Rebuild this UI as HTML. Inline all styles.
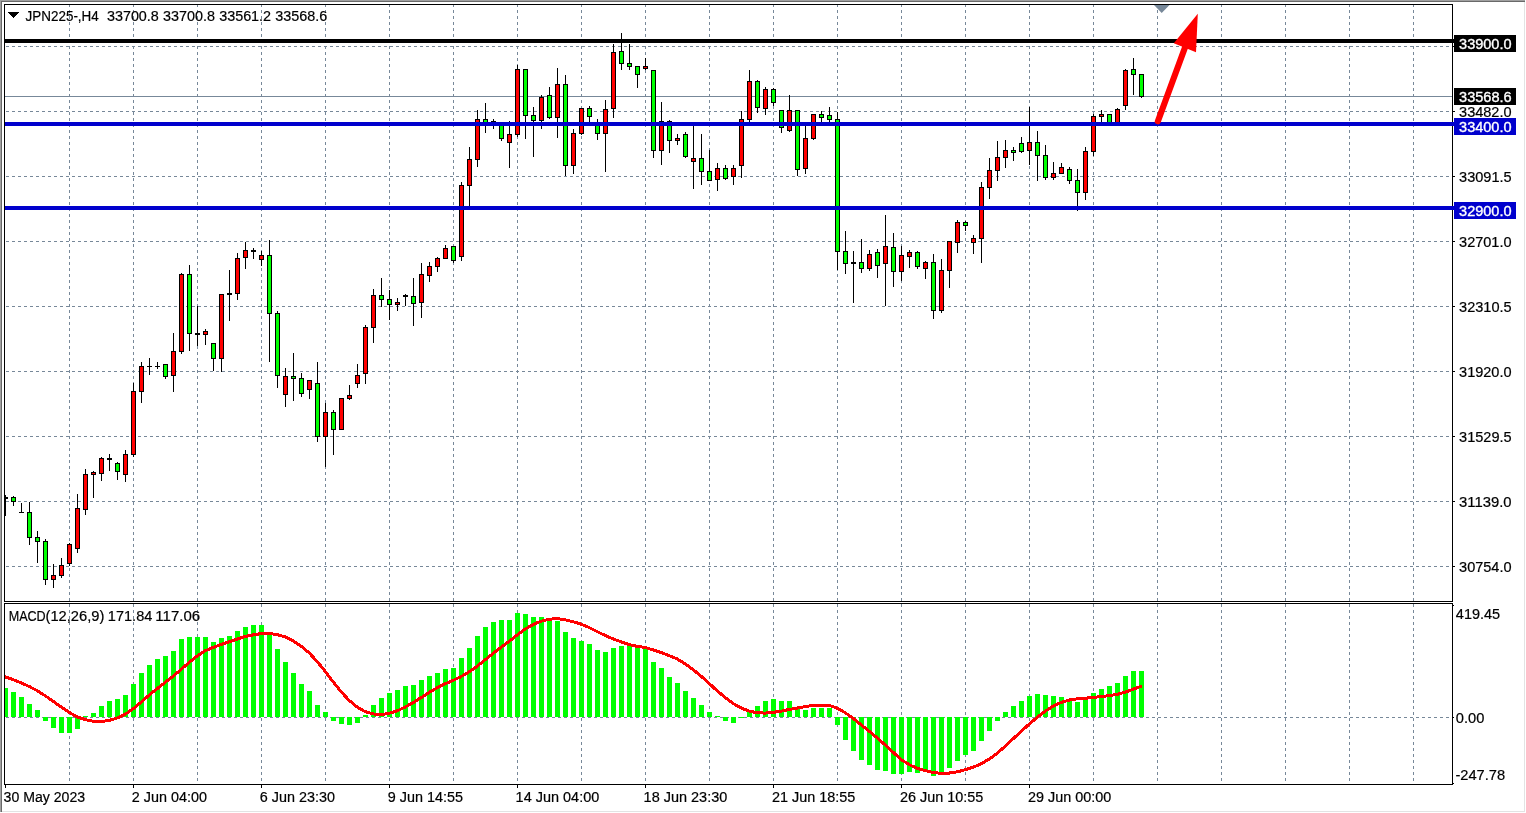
<!DOCTYPE html>
<html lang="en"><head><meta charset="utf-8"><title>JPN225-,H4</title>
<style>html,body{margin:0;padding:0;background:#fff;overflow:hidden}svg{display:block}text{font-family:"Liberation Sans",Arial,sans-serif;font-size:14px;fill:#000;stroke:#000;stroke-width:.2px}.w{fill:#fff;stroke:#fff;stroke-width:.35px}</style></head><body>
<svg width="1526" height="813" viewBox="0 0 1526 813">
<rect width="1526" height="813" fill="#fff"/>
<g shape-rendering="crispEdges">
<rect x="0" y="0" width="1526" height="1" fill="#a0a0a0"/><rect x="0" y="0" width="1" height="813" fill="#a0a0a0"/>
<rect x="1" y="1" width="1524" height="1" fill="#696969"/><rect x="1" y="1" width="1" height="811" fill="#696969"/>
<rect x="1524" y="2" width="1" height="810" fill="#e3e3e3"/><rect x="2" y="811" width="1523" height="1" fill="#e3e3e3"/>
<rect x="1525" y="0" width="1" height="813" fill="#fff"/><rect x="0" y="812" width="1526" height="1" fill="#fff"/>
<g stroke="#778899" stroke-width="1" stroke-dasharray="3 3" fill="none">
<path d="M69.5 4V601"/>
<path d="M69.5 604V784"/>
<path d="M133.5 4V601"/>
<path d="M133.5 604V784"/>
<path d="M197.5 4V601"/>
<path d="M197.5 604V784"/>
<path d="M261.5 4V601"/>
<path d="M261.5 604V784"/>
<path d="M325.5 4V601"/>
<path d="M325.5 604V784"/>
<path d="M389.5 4V601"/>
<path d="M389.5 604V784"/>
<path d="M453.5 4V601"/>
<path d="M453.5 604V784"/>
<path d="M517.5 4V601"/>
<path d="M517.5 604V784"/>
<path d="M581.5 4V601"/>
<path d="M581.5 604V784"/>
<path d="M645.5 4V601"/>
<path d="M645.5 604V784"/>
<path d="M709.5 4V601"/>
<path d="M709.5 604V784"/>
<path d="M773.5 4V601"/>
<path d="M773.5 604V784"/>
<path d="M837.5 4V601"/>
<path d="M837.5 604V784"/>
<path d="M901.5 4V601"/>
<path d="M901.5 604V784"/>
<path d="M965.5 4V601"/>
<path d="M965.5 604V784"/>
<path d="M1029.5 4V601"/>
<path d="M1029.5 604V784"/>
<path d="M1093.5 4V601"/>
<path d="M1093.5 604V784"/>
<path d="M1157.5 4V601"/>
<path d="M1157.5 604V784"/>
<path d="M1221.5 4V601"/>
<path d="M1221.5 604V784"/>
<path d="M1285.5 4V601"/>
<path d="M1285.5 604V784"/>
<path d="M1349.5 4V601"/>
<path d="M1349.5 604V784"/>
<path d="M1413.5 4V601"/>
<path d="M1413.5 604V784"/>
<path d="M6 46.5H1452"/>
<path d="M6 111.5H1452"/>
<path d="M6 176.5H1452"/>
<path d="M6 241.5H1452"/>
<path d="M6 306.5H1452"/>
<path d="M6 371.5H1452"/>
<path d="M6 436.5H1452"/>
<path d="M6 501.5H1452"/>
<path d="M6 566.5H1452"/>
<path d="M6 717.5H1452"/>
</g>
<rect x="5" y="96" width="1447" height="1" fill="#778899"/>
<clipPath id="cm"><rect x="5" y="5" width="1447" height="596"/></clipPath><clipPath id="cs"><rect x="5" y="604" width="1447" height="180"/></clipPath>
<g clip-path="url(#cm)">
<rect x="5" y="495" width="1" height="21" fill="#000"/>
<rect x="3" y="497" width="5" height="2" fill="#000"/>
<rect x="13" y="496" width="1" height="10" fill="#000"/>
<rect x="11" y="497" width="5" height="5" fill="#000"/>
<rect x="12" y="498" width="3" height="3" fill="#00ff00"/>
<rect x="21" y="503" width="1" height="10" fill="#000"/>
<rect x="19" y="512" width="5" height="1" fill="#000"/>
<rect x="29" y="502" width="1" height="43" fill="#000"/>
<rect x="27" y="512" width="5" height="26" fill="#000"/>
<rect x="28" y="513" width="3" height="24" fill="#00ff00"/>
<rect x="37" y="531" width="1" height="32" fill="#000"/>
<rect x="35" y="537" width="5" height="5" fill="#000"/>
<rect x="36" y="538" width="3" height="3" fill="#00ff00"/>
<rect x="45" y="539" width="1" height="46" fill="#000"/>
<rect x="43" y="541" width="5" height="39" fill="#000"/>
<rect x="44" y="542" width="3" height="37" fill="#00ff00"/>
<rect x="53" y="564" width="1" height="24" fill="#000"/>
<rect x="51" y="575" width="5" height="5" fill="#000"/>
<rect x="52" y="576" width="3" height="3" fill="#ff0000"/>
<rect x="61" y="558" width="1" height="20" fill="#000"/>
<rect x="59" y="565" width="5" height="11" fill="#000"/>
<rect x="60" y="566" width="3" height="9" fill="#ff0000"/>
<rect x="69" y="543" width="1" height="23" fill="#000"/>
<rect x="67" y="544" width="5" height="20" fill="#000"/>
<rect x="68" y="545" width="3" height="18" fill="#ff0000"/>
<rect x="77" y="494" width="1" height="59" fill="#000"/>
<rect x="75" y="508" width="5" height="41" fill="#000"/>
<rect x="76" y="509" width="3" height="39" fill="#ff0000"/>
<rect x="85" y="469" width="1" height="46" fill="#000"/>
<rect x="83" y="474" width="5" height="36" fill="#000"/>
<rect x="84" y="475" width="3" height="34" fill="#ff0000"/>
<rect x="93" y="471" width="1" height="27" fill="#000"/>
<rect x="91" y="472" width="5" height="3" fill="#000"/>
<rect x="92" y="473" width="3" height="1" fill="#ff0000"/>
<rect x="101" y="457" width="1" height="24" fill="#000"/>
<rect x="99" y="458" width="5" height="16" fill="#000"/>
<rect x="100" y="459" width="3" height="14" fill="#ff0000"/>
<rect x="109" y="454" width="1" height="17" fill="#000"/>
<rect x="107" y="458" width="5" height="2" fill="#000"/>
<rect x="117" y="462" width="1" height="18" fill="#000"/>
<rect x="115" y="463" width="5" height="9" fill="#000"/>
<rect x="116" y="464" width="3" height="7" fill="#00ff00"/>
<rect x="125" y="450" width="1" height="32" fill="#000"/>
<rect x="123" y="454" width="5" height="21" fill="#000"/>
<rect x="124" y="455" width="3" height="19" fill="#ff0000"/>
<rect x="133" y="383" width="1" height="74" fill="#000"/>
<rect x="131" y="391" width="5" height="64" fill="#000"/>
<rect x="132" y="392" width="3" height="62" fill="#ff0000"/>
<rect x="141" y="362" width="1" height="41" fill="#000"/>
<rect x="139" y="366" width="5" height="26" fill="#000"/>
<rect x="140" y="367" width="3" height="24" fill="#ff0000"/>
<rect x="149" y="358" width="1" height="17" fill="#000"/>
<rect x="147" y="366" width="5" height="1" fill="#000"/>
<rect x="157" y="362" width="1" height="7" fill="#000"/>
<rect x="155" y="366" width="5" height="1" fill="#000"/>
<rect x="165" y="364" width="1" height="15" fill="#000"/>
<rect x="163" y="364" width="5" height="13" fill="#000"/>
<rect x="164" y="365" width="3" height="11" fill="#00ff00"/>
<rect x="173" y="333" width="1" height="59" fill="#000"/>
<rect x="171" y="351" width="5" height="25" fill="#000"/>
<rect x="172" y="352" width="3" height="23" fill="#ff0000"/>
<rect x="181" y="273" width="1" height="81" fill="#000"/>
<rect x="179" y="274" width="5" height="78" fill="#000"/>
<rect x="180" y="275" width="3" height="76" fill="#ff0000"/>
<rect x="189" y="265" width="1" height="86" fill="#000"/>
<rect x="187" y="274" width="5" height="60" fill="#000"/>
<rect x="188" y="275" width="3" height="58" fill="#00ff00"/>
<rect x="197" y="306" width="1" height="40" fill="#000"/>
<rect x="195" y="333" width="5" height="2" fill="#000"/>
<rect x="205" y="329" width="1" height="16" fill="#000"/>
<rect x="203" y="331" width="5" height="4" fill="#000"/>
<rect x="204" y="332" width="3" height="2" fill="#ff0000"/>
<rect x="213" y="343" width="1" height="28" fill="#000"/>
<rect x="211" y="343" width="5" height="16" fill="#000"/>
<rect x="212" y="344" width="3" height="14" fill="#00ff00"/>
<rect x="221" y="294" width="1" height="78" fill="#000"/>
<rect x="219" y="294" width="5" height="65" fill="#000"/>
<rect x="220" y="295" width="3" height="63" fill="#ff0000"/>
<rect x="229" y="270" width="1" height="51" fill="#000"/>
<rect x="227" y="293" width="5" height="2" fill="#000"/>
<rect x="237" y="253" width="1" height="47" fill="#000"/>
<rect x="235" y="258" width="5" height="36" fill="#000"/>
<rect x="236" y="259" width="3" height="34" fill="#ff0000"/>
<rect x="245" y="242" width="1" height="27" fill="#000"/>
<rect x="243" y="250" width="5" height="8" fill="#000"/>
<rect x="244" y="251" width="3" height="6" fill="#ff0000"/>
<rect x="253" y="248" width="1" height="11" fill="#000"/>
<rect x="251" y="250" width="5" height="2" fill="#000"/>
<rect x="261" y="251" width="1" height="15" fill="#000"/>
<rect x="259" y="255" width="5" height="5" fill="#000"/>
<rect x="260" y="256" width="3" height="3" fill="#ff0000"/>
<rect x="269" y="240" width="1" height="122" fill="#000"/>
<rect x="267" y="255" width="5" height="59" fill="#000"/>
<rect x="268" y="256" width="3" height="57" fill="#00ff00"/>
<rect x="277" y="311" width="1" height="77" fill="#000"/>
<rect x="275" y="313" width="5" height="63" fill="#000"/>
<rect x="276" y="314" width="3" height="61" fill="#00ff00"/>
<rect x="285" y="368" width="1" height="39" fill="#000"/>
<rect x="283" y="376" width="5" height="19" fill="#000"/>
<rect x="284" y="377" width="3" height="17" fill="#ff0000"/>
<rect x="293" y="353" width="1" height="48" fill="#000"/>
<rect x="291" y="376" width="5" height="3" fill="#000"/>
<rect x="292" y="377" width="3" height="1" fill="#00ff00"/>
<rect x="301" y="373" width="1" height="24" fill="#000"/>
<rect x="299" y="378" width="5" height="16" fill="#000"/>
<rect x="300" y="379" width="3" height="14" fill="#00ff00"/>
<rect x="309" y="380" width="1" height="19" fill="#000"/>
<rect x="307" y="380" width="5" height="10" fill="#000"/>
<rect x="308" y="381" width="3" height="8" fill="#ff0000"/>
<rect x="317" y="362" width="1" height="80" fill="#000"/>
<rect x="315" y="383" width="5" height="54" fill="#000"/>
<rect x="316" y="384" width="3" height="52" fill="#00ff00"/>
<rect x="325" y="403" width="1" height="64" fill="#000"/>
<rect x="323" y="412" width="5" height="25" fill="#000"/>
<rect x="324" y="413" width="3" height="23" fill="#ff0000"/>
<rect x="333" y="410" width="1" height="45" fill="#000"/>
<rect x="331" y="412" width="5" height="18" fill="#000"/>
<rect x="332" y="413" width="3" height="16" fill="#00ff00"/>
<rect x="341" y="398" width="1" height="32" fill="#000"/>
<rect x="339" y="398" width="5" height="32" fill="#000"/>
<rect x="340" y="399" width="3" height="30" fill="#ff0000"/>
<rect x="349" y="385" width="1" height="15" fill="#000"/>
<rect x="347" y="395" width="5" height="4" fill="#000"/>
<rect x="348" y="396" width="3" height="2" fill="#ff0000"/>
<rect x="357" y="364" width="1" height="24" fill="#000"/>
<rect x="355" y="375" width="5" height="9" fill="#000"/>
<rect x="356" y="376" width="3" height="7" fill="#ff0000"/>
<rect x="365" y="325" width="1" height="59" fill="#000"/>
<rect x="363" y="327" width="5" height="47" fill="#000"/>
<rect x="364" y="328" width="3" height="45" fill="#ff0000"/>
<rect x="373" y="289" width="1" height="54" fill="#000"/>
<rect x="371" y="295" width="5" height="33" fill="#000"/>
<rect x="372" y="296" width="3" height="31" fill="#ff0000"/>
<rect x="381" y="278" width="1" height="29" fill="#000"/>
<rect x="379" y="295" width="5" height="5" fill="#000"/>
<rect x="380" y="296" width="3" height="3" fill="#00ff00"/>
<rect x="389" y="290" width="1" height="30" fill="#000"/>
<rect x="387" y="299" width="5" height="6" fill="#000"/>
<rect x="388" y="300" width="3" height="4" fill="#00ff00"/>
<rect x="397" y="298" width="1" height="13" fill="#000"/>
<rect x="395" y="302" width="5" height="3" fill="#000"/>
<rect x="396" y="303" width="3" height="1" fill="#ff0000"/>
<rect x="405" y="294" width="1" height="12" fill="#000"/>
<rect x="403" y="295" width="5" height="2" fill="#000"/>
<rect x="413" y="278" width="1" height="48" fill="#000"/>
<rect x="411" y="296" width="5" height="8" fill="#000"/>
<rect x="412" y="297" width="3" height="6" fill="#00ff00"/>
<rect x="421" y="263" width="1" height="55" fill="#000"/>
<rect x="419" y="274" width="5" height="29" fill="#000"/>
<rect x="420" y="275" width="3" height="27" fill="#ff0000"/>
<rect x="429" y="262" width="1" height="20" fill="#000"/>
<rect x="427" y="266" width="5" height="10" fill="#000"/>
<rect x="428" y="267" width="3" height="8" fill="#ff0000"/>
<rect x="437" y="257" width="1" height="15" fill="#000"/>
<rect x="435" y="258" width="5" height="9" fill="#000"/>
<rect x="436" y="259" width="3" height="7" fill="#ff0000"/>
<rect x="445" y="245" width="1" height="14" fill="#000"/>
<rect x="443" y="248" width="5" height="11" fill="#000"/>
<rect x="444" y="249" width="3" height="9" fill="#ff0000"/>
<rect x="453" y="246" width="1" height="17" fill="#000"/>
<rect x="451" y="246" width="5" height="15" fill="#000"/>
<rect x="452" y="247" width="3" height="13" fill="#00ff00"/>
<rect x="461" y="182" width="1" height="79" fill="#000"/>
<rect x="459" y="185" width="5" height="72" fill="#000"/>
<rect x="460" y="186" width="3" height="70" fill="#ff0000"/>
<rect x="469" y="147" width="1" height="61" fill="#000"/>
<rect x="467" y="159" width="5" height="27" fill="#000"/>
<rect x="468" y="160" width="3" height="25" fill="#ff0000"/>
<rect x="477" y="110" width="1" height="57" fill="#000"/>
<rect x="475" y="119" width="5" height="41" fill="#000"/>
<rect x="476" y="120" width="3" height="39" fill="#ff0000"/>
<rect x="485" y="103" width="1" height="30" fill="#000"/>
<rect x="483" y="119" width="5" height="6" fill="#000"/>
<rect x="484" y="120" width="3" height="4" fill="#00ff00"/>
<rect x="493" y="119" width="1" height="10" fill="#000"/>
<rect x="491" y="121" width="5" height="2" fill="#000"/>
<rect x="501" y="124" width="1" height="17" fill="#000"/>
<rect x="499" y="124" width="5" height="15" fill="#000"/>
<rect x="500" y="125" width="3" height="13" fill="#00ff00"/>
<rect x="509" y="121" width="1" height="47" fill="#000"/>
<rect x="507" y="134" width="5" height="9" fill="#000"/>
<rect x="508" y="135" width="3" height="7" fill="#ff0000"/>
<rect x="517" y="65" width="1" height="72" fill="#000"/>
<rect x="515" y="69" width="5" height="66" fill="#000"/>
<rect x="516" y="70" width="3" height="64" fill="#ff0000"/>
<rect x="525" y="69" width="1" height="70" fill="#000"/>
<rect x="523" y="69" width="5" height="47" fill="#000"/>
<rect x="524" y="70" width="3" height="45" fill="#00ff00"/>
<rect x="533" y="107" width="1" height="50" fill="#000"/>
<rect x="531" y="115" width="5" height="6" fill="#000"/>
<rect x="532" y="116" width="3" height="4" fill="#00ff00"/>
<rect x="541" y="95" width="1" height="34" fill="#000"/>
<rect x="539" y="97" width="5" height="24" fill="#000"/>
<rect x="540" y="98" width="3" height="22" fill="#ff0000"/>
<rect x="549" y="87" width="1" height="32" fill="#000"/>
<rect x="547" y="95" width="5" height="23" fill="#000"/>
<rect x="548" y="96" width="3" height="21" fill="#00ff00"/>
<rect x="557" y="68" width="1" height="70" fill="#000"/>
<rect x="555" y="84" width="5" height="34" fill="#000"/>
<rect x="556" y="85" width="3" height="32" fill="#ff0000"/>
<rect x="565" y="75" width="1" height="101" fill="#000"/>
<rect x="563" y="84" width="5" height="82" fill="#000"/>
<rect x="564" y="85" width="3" height="80" fill="#00ff00"/>
<rect x="573" y="129" width="1" height="45" fill="#000"/>
<rect x="571" y="133" width="5" height="33" fill="#000"/>
<rect x="572" y="134" width="3" height="31" fill="#ff0000"/>
<rect x="581" y="108" width="1" height="27" fill="#000"/>
<rect x="579" y="108" width="5" height="26" fill="#000"/>
<rect x="580" y="109" width="3" height="24" fill="#ff0000"/>
<rect x="589" y="106" width="1" height="17" fill="#000"/>
<rect x="587" y="108" width="5" height="9" fill="#000"/>
<rect x="588" y="109" width="3" height="7" fill="#00ff00"/>
<rect x="597" y="119" width="1" height="21" fill="#000"/>
<rect x="595" y="124" width="5" height="10" fill="#000"/>
<rect x="596" y="125" width="3" height="8" fill="#00ff00"/>
<rect x="605" y="100" width="1" height="72" fill="#000"/>
<rect x="603" y="109" width="5" height="25" fill="#000"/>
<rect x="604" y="110" width="3" height="23" fill="#ff0000"/>
<rect x="613" y="44" width="1" height="74" fill="#000"/>
<rect x="611" y="52" width="5" height="57" fill="#000"/>
<rect x="612" y="53" width="3" height="55" fill="#ff0000"/>
<rect x="621" y="33" width="1" height="37" fill="#000"/>
<rect x="619" y="51" width="5" height="13" fill="#000"/>
<rect x="620" y="52" width="3" height="11" fill="#00ff00"/>
<rect x="629" y="44" width="1" height="26" fill="#000"/>
<rect x="627" y="63" width="5" height="4" fill="#000"/>
<rect x="628" y="64" width="3" height="2" fill="#00ff00"/>
<rect x="637" y="66" width="1" height="22" fill="#000"/>
<rect x="635" y="66" width="5" height="9" fill="#000"/>
<rect x="636" y="67" width="3" height="7" fill="#00ff00"/>
<rect x="645" y="58" width="1" height="12" fill="#000"/>
<rect x="643" y="66" width="5" height="3" fill="#000"/>
<rect x="644" y="67" width="3" height="1" fill="#ff0000"/>
<rect x="653" y="70" width="1" height="88" fill="#000"/>
<rect x="651" y="70" width="5" height="81" fill="#000"/>
<rect x="652" y="71" width="3" height="79" fill="#00ff00"/>
<rect x="661" y="102" width="1" height="63" fill="#000"/>
<rect x="659" y="121" width="5" height="30" fill="#000"/>
<rect x="660" y="122" width="3" height="28" fill="#ff0000"/>
<rect x="669" y="120" width="1" height="33" fill="#000"/>
<rect x="667" y="121" width="5" height="20" fill="#000"/>
<rect x="668" y="122" width="3" height="18" fill="#00ff00"/>
<rect x="677" y="134" width="1" height="11" fill="#000"/>
<rect x="675" y="138" width="5" height="3" fill="#000"/>
<rect x="676" y="139" width="3" height="1" fill="#ff0000"/>
<rect x="685" y="132" width="1" height="26" fill="#000"/>
<rect x="683" y="134" width="5" height="23" fill="#000"/>
<rect x="684" y="135" width="3" height="21" fill="#00ff00"/>
<rect x="693" y="123" width="1" height="66" fill="#000"/>
<rect x="691" y="158" width="5" height="4" fill="#000"/>
<rect x="692" y="159" width="3" height="2" fill="#ff0000"/>
<rect x="701" y="134" width="1" height="51" fill="#000"/>
<rect x="699" y="158" width="5" height="14" fill="#000"/>
<rect x="700" y="159" width="3" height="12" fill="#00ff00"/>
<rect x="709" y="150" width="1" height="31" fill="#000"/>
<rect x="707" y="171" width="5" height="10" fill="#000"/>
<rect x="708" y="172" width="3" height="8" fill="#00ff00"/>
<rect x="717" y="163" width="1" height="28" fill="#000"/>
<rect x="715" y="168" width="5" height="12" fill="#000"/>
<rect x="716" y="169" width="3" height="10" fill="#ff0000"/>
<rect x="725" y="165" width="1" height="15" fill="#000"/>
<rect x="723" y="168" width="5" height="11" fill="#000"/>
<rect x="724" y="169" width="3" height="9" fill="#00ff00"/>
<rect x="733" y="165" width="1" height="20" fill="#000"/>
<rect x="731" y="168" width="5" height="9" fill="#000"/>
<rect x="732" y="169" width="3" height="7" fill="#ff0000"/>
<rect x="741" y="111" width="1" height="67" fill="#000"/>
<rect x="739" y="119" width="5" height="47" fill="#000"/>
<rect x="740" y="120" width="3" height="45" fill="#ff0000"/>
<rect x="749" y="70" width="1" height="53" fill="#000"/>
<rect x="747" y="81" width="5" height="39" fill="#000"/>
<rect x="748" y="82" width="3" height="37" fill="#ff0000"/>
<rect x="757" y="80" width="1" height="33" fill="#000"/>
<rect x="755" y="81" width="5" height="27" fill="#000"/>
<rect x="756" y="82" width="3" height="25" fill="#00ff00"/>
<rect x="765" y="87" width="1" height="28" fill="#000"/>
<rect x="763" y="89" width="5" height="20" fill="#000"/>
<rect x="764" y="90" width="3" height="18" fill="#ff0000"/>
<rect x="773" y="88" width="1" height="18" fill="#000"/>
<rect x="771" y="89" width="5" height="14" fill="#000"/>
<rect x="772" y="90" width="3" height="12" fill="#00ff00"/>
<rect x="781" y="110" width="1" height="23" fill="#000"/>
<rect x="779" y="110" width="5" height="18" fill="#000"/>
<rect x="780" y="111" width="3" height="16" fill="#00ff00"/>
<rect x="789" y="95" width="1" height="37" fill="#000"/>
<rect x="787" y="110" width="5" height="21" fill="#000"/>
<rect x="788" y="111" width="3" height="19" fill="#ff0000"/>
<rect x="797" y="110" width="1" height="66" fill="#000"/>
<rect x="795" y="110" width="5" height="60" fill="#000"/>
<rect x="796" y="111" width="3" height="58" fill="#00ff00"/>
<rect x="805" y="125" width="1" height="49" fill="#000"/>
<rect x="803" y="138" width="5" height="31" fill="#000"/>
<rect x="804" y="139" width="3" height="29" fill="#ff0000"/>
<rect x="813" y="114" width="1" height="26" fill="#000"/>
<rect x="811" y="114" width="5" height="25" fill="#000"/>
<rect x="812" y="115" width="3" height="23" fill="#ff0000"/>
<rect x="821" y="111" width="1" height="12" fill="#000"/>
<rect x="819" y="114" width="5" height="4" fill="#000"/>
<rect x="820" y="115" width="3" height="2" fill="#00ff00"/>
<rect x="829" y="107" width="1" height="16" fill="#000"/>
<rect x="827" y="115" width="5" height="5" fill="#000"/>
<rect x="828" y="116" width="3" height="3" fill="#00ff00"/>
<rect x="837" y="112" width="1" height="158" fill="#000"/>
<rect x="835" y="119" width="5" height="133" fill="#000"/>
<rect x="836" y="120" width="3" height="131" fill="#00ff00"/>
<rect x="845" y="231" width="1" height="43" fill="#000"/>
<rect x="843" y="251" width="5" height="13" fill="#000"/>
<rect x="844" y="252" width="3" height="11" fill="#00ff00"/>
<rect x="853" y="251" width="1" height="52" fill="#000"/>
<rect x="851" y="262" width="5" height="2" fill="#000"/>
<rect x="861" y="239" width="1" height="34" fill="#000"/>
<rect x="859" y="262" width="5" height="7" fill="#000"/>
<rect x="860" y="263" width="3" height="5" fill="#00ff00"/>
<rect x="869" y="250" width="1" height="21" fill="#000"/>
<rect x="867" y="254" width="5" height="15" fill="#000"/>
<rect x="868" y="255" width="3" height="13" fill="#ff0000"/>
<rect x="877" y="249" width="1" height="29" fill="#000"/>
<rect x="875" y="252" width="5" height="14" fill="#000"/>
<rect x="876" y="253" width="3" height="12" fill="#00ff00"/>
<rect x="885" y="215" width="1" height="91" fill="#000"/>
<rect x="883" y="246" width="5" height="18" fill="#000"/>
<rect x="884" y="247" width="3" height="16" fill="#ff0000"/>
<rect x="893" y="233" width="1" height="54" fill="#000"/>
<rect x="891" y="247" width="5" height="25" fill="#000"/>
<rect x="892" y="248" width="3" height="23" fill="#00ff00"/>
<rect x="901" y="246" width="1" height="35" fill="#000"/>
<rect x="899" y="255" width="5" height="17" fill="#000"/>
<rect x="900" y="256" width="3" height="15" fill="#ff0000"/>
<rect x="909" y="250" width="1" height="18" fill="#000"/>
<rect x="907" y="252" width="5" height="5" fill="#000"/>
<rect x="908" y="253" width="3" height="3" fill="#ff0000"/>
<rect x="917" y="251" width="1" height="18" fill="#000"/>
<rect x="915" y="252" width="5" height="15" fill="#000"/>
<rect x="916" y="253" width="3" height="13" fill="#00ff00"/>
<rect x="925" y="261" width="1" height="18" fill="#000"/>
<rect x="923" y="262" width="5" height="7" fill="#000"/>
<rect x="924" y="263" width="3" height="5" fill="#ff0000"/>
<rect x="933" y="254" width="1" height="65" fill="#000"/>
<rect x="931" y="262" width="5" height="49" fill="#000"/>
<rect x="932" y="263" width="3" height="47" fill="#00ff00"/>
<rect x="941" y="259" width="1" height="54" fill="#000"/>
<rect x="939" y="270" width="5" height="41" fill="#000"/>
<rect x="940" y="271" width="3" height="39" fill="#ff0000"/>
<rect x="949" y="241" width="1" height="47" fill="#000"/>
<rect x="947" y="241" width="5" height="30" fill="#000"/>
<rect x="948" y="242" width="3" height="28" fill="#ff0000"/>
<rect x="957" y="220" width="1" height="33" fill="#000"/>
<rect x="955" y="222" width="5" height="21" fill="#000"/>
<rect x="956" y="223" width="3" height="19" fill="#ff0000"/>
<rect x="965" y="221" width="1" height="10" fill="#000"/>
<rect x="963" y="222" width="5" height="4" fill="#000"/>
<rect x="964" y="223" width="3" height="2" fill="#00ff00"/>
<rect x="973" y="235" width="1" height="19" fill="#000"/>
<rect x="971" y="238" width="5" height="5" fill="#000"/>
<rect x="972" y="239" width="3" height="3" fill="#ff0000"/>
<rect x="981" y="182" width="1" height="81" fill="#000"/>
<rect x="979" y="187" width="5" height="52" fill="#000"/>
<rect x="980" y="188" width="3" height="50" fill="#ff0000"/>
<rect x="989" y="158" width="1" height="41" fill="#000"/>
<rect x="987" y="170" width="5" height="18" fill="#000"/>
<rect x="988" y="171" width="3" height="16" fill="#ff0000"/>
<rect x="997" y="141" width="1" height="40" fill="#000"/>
<rect x="995" y="157" width="5" height="14" fill="#000"/>
<rect x="996" y="158" width="3" height="12" fill="#ff0000"/>
<rect x="1005" y="140" width="1" height="28" fill="#000"/>
<rect x="1003" y="150" width="5" height="8" fill="#000"/>
<rect x="1004" y="151" width="3" height="6" fill="#ff0000"/>
<rect x="1013" y="147" width="1" height="14" fill="#000"/>
<rect x="1011" y="150" width="5" height="3" fill="#000"/>
<rect x="1012" y="151" width="3" height="1" fill="#00ff00"/>
<rect x="1021" y="137" width="1" height="16" fill="#000"/>
<rect x="1019" y="143" width="5" height="9" fill="#000"/>
<rect x="1020" y="144" width="3" height="7" fill="#00ff00"/>
<rect x="1029" y="107" width="1" height="58" fill="#000"/>
<rect x="1027" y="142" width="5" height="9" fill="#000"/>
<rect x="1028" y="143" width="3" height="7" fill="#ff0000"/>
<rect x="1037" y="131" width="1" height="50" fill="#000"/>
<rect x="1035" y="142" width="5" height="14" fill="#000"/>
<rect x="1036" y="143" width="3" height="12" fill="#00ff00"/>
<rect x="1045" y="145" width="1" height="35" fill="#000"/>
<rect x="1043" y="155" width="5" height="23" fill="#000"/>
<rect x="1044" y="156" width="3" height="21" fill="#00ff00"/>
<rect x="1053" y="162" width="1" height="18" fill="#000"/>
<rect x="1051" y="173" width="5" height="5" fill="#000"/>
<rect x="1052" y="174" width="3" height="3" fill="#ff0000"/>
<rect x="1061" y="163" width="1" height="11" fill="#000"/>
<rect x="1059" y="167" width="5" height="7" fill="#000"/>
<rect x="1060" y="168" width="3" height="5" fill="#ff0000"/>
<rect x="1069" y="167" width="1" height="17" fill="#000"/>
<rect x="1067" y="169" width="5" height="12" fill="#000"/>
<rect x="1068" y="170" width="3" height="10" fill="#00ff00"/>
<rect x="1077" y="169" width="1" height="42" fill="#000"/>
<rect x="1075" y="180" width="5" height="13" fill="#000"/>
<rect x="1076" y="181" width="3" height="11" fill="#00ff00"/>
<rect x="1085" y="147" width="1" height="53" fill="#000"/>
<rect x="1083" y="151" width="5" height="42" fill="#000"/>
<rect x="1084" y="152" width="3" height="40" fill="#ff0000"/>
<rect x="1093" y="114" width="1" height="42" fill="#000"/>
<rect x="1091" y="116" width="5" height="36" fill="#000"/>
<rect x="1092" y="117" width="3" height="34" fill="#ff0000"/>
<rect x="1101" y="110" width="1" height="13" fill="#000"/>
<rect x="1099" y="114" width="5" height="3" fill="#000"/>
<rect x="1100" y="115" width="3" height="1" fill="#ff0000"/>
<rect x="1109" y="114" width="1" height="9" fill="#000"/>
<rect x="1107" y="114" width="5" height="9" fill="#000"/>
<rect x="1108" y="115" width="3" height="7" fill="#00ff00"/>
<rect x="1117" y="108" width="1" height="16" fill="#000"/>
<rect x="1115" y="109" width="5" height="15" fill="#000"/>
<rect x="1116" y="110" width="3" height="13" fill="#ff0000"/>
<rect x="1125" y="69" width="1" height="41" fill="#000"/>
<rect x="1123" y="70" width="5" height="36" fill="#000"/>
<rect x="1124" y="71" width="3" height="34" fill="#ff0000"/>
<rect x="1133" y="58" width="1" height="37" fill="#000"/>
<rect x="1131" y="69" width="5" height="6" fill="#000"/>
<rect x="1132" y="70" width="3" height="4" fill="#00ff00"/>
<rect x="1141" y="74" width="1" height="24" fill="#000"/>
<rect x="1139" y="74" width="5" height="23" fill="#000"/>
<rect x="1140" y="75" width="3" height="21" fill="#00ff00"/>
</g>
<g clip-path="url(#cs)">
<rect x="3" y="688" width="5" height="29" fill="#00ff00"/>
<rect x="11" y="692" width="5" height="25" fill="#00ff00"/>
<rect x="19" y="697" width="5" height="20" fill="#00ff00"/>
<rect x="27" y="704" width="5" height="13" fill="#00ff00"/>
<rect x="35" y="710" width="5" height="7" fill="#00ff00"/>
<rect x="43" y="717" width="5" height="4" fill="#00ff00"/>
<rect x="51" y="717" width="5" height="11" fill="#00ff00"/>
<rect x="59" y="717" width="5" height="16" fill="#00ff00"/>
<rect x="67" y="717" width="5" height="16" fill="#00ff00"/>
<rect x="75" y="717" width="5" height="12" fill="#00ff00"/>
<rect x="83" y="716" width="5" height="1" fill="#00ff00"/>
<rect x="91" y="713" width="5" height="4" fill="#00ff00"/>
<rect x="99" y="706" width="5" height="11" fill="#00ff00"/>
<rect x="107" y="701" width="5" height="16" fill="#00ff00"/>
<rect x="115" y="699" width="5" height="18" fill="#00ff00"/>
<rect x="123" y="695" width="5" height="22" fill="#00ff00"/>
<rect x="131" y="684" width="5" height="33" fill="#00ff00"/>
<rect x="139" y="673" width="5" height="44" fill="#00ff00"/>
<rect x="147" y="665" width="5" height="52" fill="#00ff00"/>
<rect x="155" y="659" width="5" height="58" fill="#00ff00"/>
<rect x="163" y="656" width="5" height="61" fill="#00ff00"/>
<rect x="171" y="651" width="5" height="66" fill="#00ff00"/>
<rect x="179" y="639" width="5" height="78" fill="#00ff00"/>
<rect x="187" y="637" width="5" height="80" fill="#00ff00"/>
<rect x="195" y="637" width="5" height="80" fill="#00ff00"/>
<rect x="203" y="637" width="5" height="80" fill="#00ff00"/>
<rect x="211" y="642" width="5" height="75" fill="#00ff00"/>
<rect x="219" y="638" width="5" height="79" fill="#00ff00"/>
<rect x="227" y="636" width="5" height="81" fill="#00ff00"/>
<rect x="235" y="631" width="5" height="86" fill="#00ff00"/>
<rect x="243" y="627" width="5" height="90" fill="#00ff00"/>
<rect x="251" y="625" width="5" height="92" fill="#00ff00"/>
<rect x="259" y="625" width="5" height="92" fill="#00ff00"/>
<rect x="267" y="634" width="5" height="83" fill="#00ff00"/>
<rect x="275" y="649" width="5" height="68" fill="#00ff00"/>
<rect x="283" y="662" width="5" height="55" fill="#00ff00"/>
<rect x="291" y="673" width="5" height="44" fill="#00ff00"/>
<rect x="299" y="684" width="5" height="33" fill="#00ff00"/>
<rect x="307" y="691" width="5" height="26" fill="#00ff00"/>
<rect x="315" y="705" width="5" height="12" fill="#00ff00"/>
<rect x="323" y="712" width="5" height="5" fill="#00ff00"/>
<rect x="331" y="717" width="5" height="4" fill="#00ff00"/>
<rect x="339" y="717" width="5" height="7" fill="#00ff00"/>
<rect x="347" y="717" width="5" height="8" fill="#00ff00"/>
<rect x="355" y="717" width="5" height="6" fill="#00ff00"/>
<rect x="363" y="715" width="5" height="2" fill="#00ff00"/>
<rect x="371" y="705" width="5" height="12" fill="#00ff00"/>
<rect x="379" y="698" width="5" height="19" fill="#00ff00"/>
<rect x="387" y="693" width="5" height="24" fill="#00ff00"/>
<rect x="395" y="690" width="5" height="27" fill="#00ff00"/>
<rect x="403" y="686" width="5" height="31" fill="#00ff00"/>
<rect x="411" y="685" width="5" height="32" fill="#00ff00"/>
<rect x="419" y="680" width="5" height="37" fill="#00ff00"/>
<rect x="427" y="676" width="5" height="41" fill="#00ff00"/>
<rect x="435" y="673" width="5" height="44" fill="#00ff00"/>
<rect x="443" y="669" width="5" height="48" fill="#00ff00"/>
<rect x="451" y="668" width="5" height="49" fill="#00ff00"/>
<rect x="459" y="658" width="5" height="59" fill="#00ff00"/>
<rect x="467" y="648" width="5" height="69" fill="#00ff00"/>
<rect x="475" y="636" width="5" height="81" fill="#00ff00"/>
<rect x="483" y="627" width="5" height="90" fill="#00ff00"/>
<rect x="491" y="622" width="5" height="95" fill="#00ff00"/>
<rect x="499" y="620" width="5" height="97" fill="#00ff00"/>
<rect x="507" y="620" width="5" height="97" fill="#00ff00"/>
<rect x="515" y="613" width="5" height="104" fill="#00ff00"/>
<rect x="523" y="614" width="5" height="103" fill="#00ff00"/>
<rect x="531" y="617" width="5" height="100" fill="#00ff00"/>
<rect x="539" y="617" width="5" height="100" fill="#00ff00"/>
<rect x="547" y="619" width="5" height="98" fill="#00ff00"/>
<rect x="555" y="621" width="5" height="96" fill="#00ff00"/>
<rect x="563" y="632" width="5" height="85" fill="#00ff00"/>
<rect x="571" y="638" width="5" height="79" fill="#00ff00"/>
<rect x="579" y="641" width="5" height="76" fill="#00ff00"/>
<rect x="587" y="644" width="5" height="73" fill="#00ff00"/>
<rect x="595" y="650" width="5" height="67" fill="#00ff00"/>
<rect x="603" y="652" width="5" height="65" fill="#00ff00"/>
<rect x="611" y="648" width="5" height="69" fill="#00ff00"/>
<rect x="619" y="646" width="5" height="71" fill="#00ff00"/>
<rect x="627" y="646" width="5" height="71" fill="#00ff00"/>
<rect x="635" y="647" width="5" height="70" fill="#00ff00"/>
<rect x="643" y="649" width="5" height="68" fill="#00ff00"/>
<rect x="651" y="662" width="5" height="55" fill="#00ff00"/>
<rect x="659" y="668" width="5" height="49" fill="#00ff00"/>
<rect x="667" y="677" width="5" height="40" fill="#00ff00"/>
<rect x="675" y="683" width="5" height="34" fill="#00ff00"/>
<rect x="683" y="691" width="5" height="26" fill="#00ff00"/>
<rect x="691" y="698" width="5" height="19" fill="#00ff00"/>
<rect x="699" y="705" width="5" height="12" fill="#00ff00"/>
<rect x="707" y="712" width="5" height="5" fill="#00ff00"/>
<rect x="715" y="716" width="5" height="1" fill="#00ff00"/>
<rect x="723" y="717" width="5" height="4" fill="#00ff00"/>
<rect x="731" y="717" width="5" height="6" fill="#00ff00"/>
<rect x="739" y="717" width="5" height="1" fill="#00ff00"/>
<rect x="747" y="711" width="5" height="6" fill="#00ff00"/>
<rect x="755" y="706" width="5" height="11" fill="#00ff00"/>
<rect x="763" y="701" width="5" height="16" fill="#00ff00"/>
<rect x="771" y="699" width="5" height="18" fill="#00ff00"/>
<rect x="779" y="701" width="5" height="16" fill="#00ff00"/>
<rect x="787" y="701" width="5" height="16" fill="#00ff00"/>
<rect x="795" y="708" width="5" height="9" fill="#00ff00"/>
<rect x="803" y="710" width="5" height="7" fill="#00ff00"/>
<rect x="811" y="708" width="5" height="9" fill="#00ff00"/>
<rect x="819" y="708" width="5" height="9" fill="#00ff00"/>
<rect x="827" y="708" width="5" height="9" fill="#00ff00"/>
<rect x="835" y="717" width="5" height="8" fill="#00ff00"/>
<rect x="843" y="717" width="5" height="23" fill="#00ff00"/>
<rect x="851" y="717" width="5" height="34" fill="#00ff00"/>
<rect x="859" y="717" width="5" height="43" fill="#00ff00"/>
<rect x="867" y="717" width="5" height="48" fill="#00ff00"/>
<rect x="875" y="717" width="5" height="53" fill="#00ff00"/>
<rect x="883" y="717" width="5" height="54" fill="#00ff00"/>
<rect x="891" y="717" width="5" height="57" fill="#00ff00"/>
<rect x="899" y="717" width="5" height="57" fill="#00ff00"/>
<rect x="907" y="717" width="5" height="55" fill="#00ff00"/>
<rect x="915" y="717" width="5" height="56" fill="#00ff00"/>
<rect x="923" y="717" width="5" height="55" fill="#00ff00"/>
<rect x="931" y="717" width="5" height="59" fill="#00ff00"/>
<rect x="939" y="717" width="5" height="56" fill="#00ff00"/>
<rect x="947" y="717" width="5" height="51" fill="#00ff00"/>
<rect x="955" y="717" width="5" height="44" fill="#00ff00"/>
<rect x="963" y="717" width="5" height="38" fill="#00ff00"/>
<rect x="971" y="717" width="5" height="34" fill="#00ff00"/>
<rect x="979" y="717" width="5" height="24" fill="#00ff00"/>
<rect x="987" y="717" width="5" height="14" fill="#00ff00"/>
<rect x="995" y="717" width="5" height="4" fill="#00ff00"/>
<rect x="1003" y="712" width="5" height="5" fill="#00ff00"/>
<rect x="1011" y="706" width="5" height="11" fill="#00ff00"/>
<rect x="1019" y="701" width="5" height="16" fill="#00ff00"/>
<rect x="1027" y="696" width="5" height="21" fill="#00ff00"/>
<rect x="1035" y="694" width="5" height="23" fill="#00ff00"/>
<rect x="1043" y="695" width="5" height="22" fill="#00ff00"/>
<rect x="1051" y="696" width="5" height="21" fill="#00ff00"/>
<rect x="1059" y="697" width="5" height="20" fill="#00ff00"/>
<rect x="1067" y="699" width="5" height="18" fill="#00ff00"/>
<rect x="1075" y="702" width="5" height="15" fill="#00ff00"/>
<rect x="1083" y="700" width="5" height="17" fill="#00ff00"/>
<rect x="1091" y="693" width="5" height="24" fill="#00ff00"/>
<rect x="1099" y="689" width="5" height="28" fill="#00ff00"/>
<rect x="1107" y="686" width="5" height="31" fill="#00ff00"/>
<rect x="1115" y="683" width="5" height="34" fill="#00ff00"/>
<rect x="1123" y="676" width="5" height="41" fill="#00ff00"/>
<rect x="1131" y="671" width="5" height="46" fill="#00ff00"/>
<rect x="1139" y="671" width="5" height="46" fill="#00ff00"/>
</g>
</g>
<path d="M5 676.8 L13 679.6 L21 682.7 L29 686.4 L37 690.5 L45 695.6 L53 701.2 L61 706.9 L69 712.3 L77 716.8 L85 719.5 L93 721.3 L101 721.5 L109 720.5 L117 718.1 L125 714.4 L133 708.9 L141 702.3 L149 695.2 L157 688.8 L165 682.5 L173 676.4 L181 669.5 L189 662.6 L197 656.2 L205 650.9 L213 647.5 L221 644.5 L229 641.9 L237 639.2 L245 636.5 L253 634.9 L261 633.6 L269 633.3 L277 634.6 L285 636.8 L293 640.7 L301 646.1 L309 652.7 L317 661.4 L325 671.1 L333 681.7 L341 691.7 L349 700.2 L357 706.9 L365 711.6 L373 713.9 L381 714.7 L389 713.4 L397 710.9 L405 707.1 L413 702.7 L421 697.7 L429 692.5 L437 687.8 L445 683.8 L453 680.5 L461 676.6 L469 671.9 L477 666.4 L485 659.9 L493 653.5 L501 647.3 L509 641.4 L517 635.2 L525 629.2 L533 624.6 L541 621.2 L549 619.3 L557 618.6 L565 619.7 L573 621.7 L581 624.1 L589 627.5 L597 631.5 L605 635.4 L613 638.8 L621 641.8 L629 644.6 L637 646.3 L645 647.5 L653 649.8 L661 652.5 L669 655.5 L677 658.9 L685 663.7 L693 669.5 L701 676.1 L709 683.3 L717 690.7 L725 697.3 L733 703.4 L741 707.9 L749 711.1 L757 712.7 L765 713.1 L773 712.4 L781 711.2 L789 709.5 L797 708.1 L805 706.6 L813 705.5 L821 705.2 L829 705.4 L837 708.1 L845 712.6 L853 718.2 L861 724.7 L869 731.1 L877 737.7 L885 744.7 L893 752.1 L901 759.4 L909 764.6 L917 768.3 L925 770.6 L933 772.4 L941 773.3 L949 773.1 L957 771.9 L965 769.8 L973 767.3 L981 763.8 L989 759.2 L997 753.5 L1005 746.4 L1013 738.9 L1021 731.5 L1029 724.3 L1037 717.5 L1045 711.3 L1053 706.3 L1061 702.5 L1069 700.1 L1077 698.9 L1085 698.3 L1093 697.4 L1101 696.6 L1109 695.7 L1117 694.4 L1125 692.2 L1133 689.3 L1141 686.2" stroke="#ff0000" stroke-width="3" fill="none" stroke-linejoin="round" stroke-linecap="round" clip-path="url(#cs)" shape-rendering="crispEdges"/>
<path d="M1154 5H1169.5L1161.7 13Z" fill="#778899"/>
<g shape-rendering="crispEdges" fill="#000">
<rect x="4" y="4" width="1449" height="1"/><rect x="4" y="601" width="1449" height="1"/><rect x="4" y="4" width="1" height="598"/><rect x="1452" y="4" width="1" height="598"/>
<rect x="4" y="603" width="1449" height="1"/><rect x="4" y="784" width="1449" height="1"/><rect x="4" y="603" width="1" height="182"/><rect x="1452" y="603" width="1" height="182"/>
<rect x="1453" y="46" width="2" height="1"/>
<rect x="1453" y="111" width="2" height="1"/>
<rect x="1453" y="176" width="2" height="1"/>
<rect x="1453" y="241" width="2" height="1"/>
<rect x="1453" y="306" width="2" height="1"/>
<rect x="1453" y="371" width="2" height="1"/>
<rect x="1453" y="436" width="2" height="1"/>
<rect x="1453" y="501" width="2" height="1"/>
<rect x="1453" y="566" width="2" height="1"/>
<rect x="1453" y="605" width="1" height="1"/><rect x="1453" y="717" width="1" height="1"/><rect x="1453" y="783" width="1" height="1"/>
<rect x="5" y="785" width="1" height="3"/>
<rect x="133" y="785" width="1" height="3"/>
<rect x="261" y="785" width="1" height="3"/>
<rect x="389" y="785" width="1" height="3"/>
<rect x="517" y="785" width="1" height="3"/>
<rect x="645" y="785" width="1" height="3"/>
<rect x="773" y="785" width="1" height="3"/>
<rect x="901" y="785" width="1" height="3"/>
<rect x="1029" y="785" width="1" height="3"/>
<rect x="8" y="12" width="11" height="1"/>
<rect x="9" y="13" width="9" height="1"/>
<rect x="10" y="14" width="7" height="1"/>
<rect x="11" y="15" width="5" height="1"/>
<rect x="12" y="16" width="3" height="1"/>
<rect x="13" y="17" width="1" height="1"/>
<rect x="1454" y="35" width="62" height="17"/><rect x="1454" y="88" width="62" height="17"/>
<rect x="1454" y="118" width="62" height="17" fill="#0000cd"/><rect x="1454" y="202" width="62" height="17" fill="#0000cd"/>
</g>
<g shape-rendering="crispEdges">
<rect x="5" y="39" width="1449" height="4" fill="#000"/>
<rect x="5" y="122" width="1449" height="4" fill="#0000cd"/>
<rect x="5" y="206" width="1449" height="4" fill="#0000cd"/>
</g>
<path d="M1157.9 121.2L1185 47.5" stroke="#ff0000" stroke-width="6.2" stroke-linecap="round" fill="none"/>
<path d="M1197.8 13.8L1173.8 43.3L1196 52.2Z" fill="#ff0000"/>
<text x="25.59" y="21" textLength="73.20" lengthAdjust="spacingAndGlyphs">JPN225-,H4</text>
<text x="106.95" y="21" textLength="51.87" lengthAdjust="spacingAndGlyphs">33700.8</text>
<text x="163.05" y="21" textLength="51.87" lengthAdjust="spacingAndGlyphs">33700.8</text>
<text x="219.15" y="21" textLength="51.97" lengthAdjust="spacingAndGlyphs">33561.2</text>
<text x="275.25" y="21" textLength="51.88" lengthAdjust="spacingAndGlyphs">33568.6</text>
<text x="8.67" y="621" textLength="37.03" lengthAdjust="spacingAndGlyphs">MACD</text>
<text x="45.49" y="621" textLength="58.82" lengthAdjust="spacingAndGlyphs">(12,26,9)</text>
<text x="107.89" y="621" textLength="44.43" lengthAdjust="spacingAndGlyphs">171.84</text>
<text x="155.39" y="621" textLength="44.76" lengthAdjust="spacingAndGlyphs">117.06</text>
<text x="1459.05" y="49" class="w" textLength="52.52" lengthAdjust="spacingAndGlyphs">33900.0</text>
<text x="1459.05" y="102" class="w" textLength="52.59" lengthAdjust="spacingAndGlyphs">33568.6</text>
<text x="1459.05" y="117" textLength="52.52" lengthAdjust="spacingAndGlyphs">33482.0</text>
<text x="1459.05" y="132" class="w" textLength="52.52" lengthAdjust="spacingAndGlyphs">33400.0</text>
<text x="1459.05" y="182" textLength="52.56" lengthAdjust="spacingAndGlyphs">33091.5</text>
<text x="1459.05" y="216" class="w" textLength="52.52" lengthAdjust="spacingAndGlyphs">32900.0</text>
<text x="1459.05" y="247" textLength="52.52" lengthAdjust="spacingAndGlyphs">32701.0</text>
<text x="1459.05" y="312" textLength="52.56" lengthAdjust="spacingAndGlyphs">32310.5</text>
<text x="1459.05" y="377" textLength="52.52" lengthAdjust="spacingAndGlyphs">31920.0</text>
<text x="1459.05" y="442" textLength="52.56" lengthAdjust="spacingAndGlyphs">31529.5</text>
<text x="1459.05" y="507" textLength="52.52" lengthAdjust="spacingAndGlyphs">31139.0</text>
<text x="1459.05" y="572" textLength="52.52" lengthAdjust="spacingAndGlyphs">30754.0</text>
<text x="1455.87" y="619" textLength="44.24" lengthAdjust="spacingAndGlyphs">419.45</text>
<text x="1455.83" y="723" textLength="28.55" lengthAdjust="spacingAndGlyphs">0.00</text>
<text x="1455.45" y="780" textLength="49.69" lengthAdjust="spacingAndGlyphs">-247.78</text>
<text x="3.56" y="802" textLength="81.56" lengthAdjust="spacingAndGlyphs">30 May 2023</text>
<text x="131.78" y="802" textLength="75.19" lengthAdjust="spacingAndGlyphs">2 Jun 04:00</text>
<text x="259.77" y="802" textLength="75.19" lengthAdjust="spacingAndGlyphs">6 Jun 23:30</text>
<text x="387.83" y="802" textLength="75.18" lengthAdjust="spacingAndGlyphs">9 Jun 14:55</text>
<text x="515.60" y="802" textLength="83.67" lengthAdjust="spacingAndGlyphs">14 Jun 04:00</text>
<text x="643.60" y="802" textLength="83.67" lengthAdjust="spacingAndGlyphs">18 Jun 23:30</text>
<text x="771.98" y="802" textLength="83.33" lengthAdjust="spacingAndGlyphs">21 Jun 18:55</text>
<text x="899.98" y="802" textLength="83.33" lengthAdjust="spacingAndGlyphs">26 Jun 10:55</text>
<text x="1027.98" y="802" textLength="83.29" lengthAdjust="spacingAndGlyphs">29 Jun 00:00</text>
</svg></body></html>
